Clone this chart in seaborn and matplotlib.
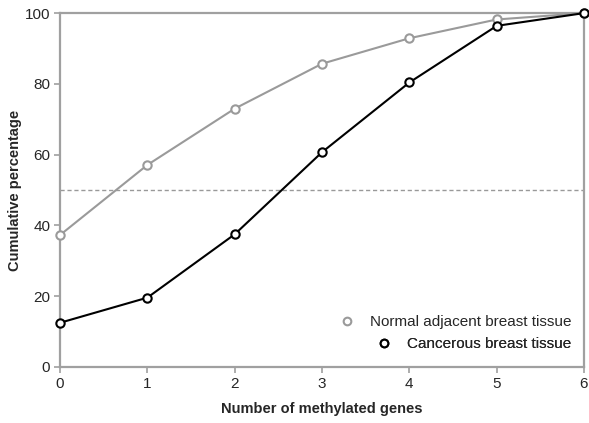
import matplotlib
matplotlib.use("Agg")
import matplotlib.pyplot as plt
import seaborn as sns
import pandas as pd
from matplotlib.lines import Line2D

genes = [0, 1, 2, 3, 4, 5, 6]
normal = [37.3, 57.1, 73.0, 85.7, 92.9, 98.2, 100.0]
cancer = [12.5, 19.6, 37.5, 60.7, 80.4, 96.4, 100.0]
labels = ["Normal adjacent breast tissue", "Cancerous breast tissue"]
colors = ["#9a9a9a", "#000000"]

sns.set_theme(style="white")
plt.rcParams['font.family'] = ['Liberation Sans', 'DejaVu Sans']

df = pd.DataFrame({
    "x": genes * 2,
    "y": normal + cancer,
    "group": [labels[0]] * len(genes) + [labels[1]] * len(genes),
})

fig = plt.figure(figsize=(5.89, 4.23), dpi=100)
ax = fig.add_axes([0.102, 0.1324, 0.8895, 0.8366])

ax.axhline(50, color="#999999", lw=1.0, ls=(0, (3, 2)), zorder=1)

for lab, col in zip(labels, colors):
    sub = df[df.group == lab]
    sns.lineplot(data=sub, x="x", y="y", ax=ax, color=col, lw=1.5,
                 marker="o", markersize=6, markerfacecolor="white",
                 markeredgecolor=col, markeredgewidth=1.5, legend=False,
                 clip_on=False, zorder=3)

ax.set_xlim(0, 6)
ax.set_ylim(0, 100)
ax.set_xticks(genes)
ax.set_yticks([0, 20, 40, 60, 80, 100])
for s in ax.spines.values():
    s.set_color("#a0a0a0")
    s.set_linewidth(1.6)
ax.tick_params(axis="both", direction="out", length=4, width=1.2, color="#a0a0a0",
               labelsize=11, pad=3, bottom=True, left=True)
ax.set_xlabel("Number of methylated genes", fontsize=10.5, fontweight="bold")
ax.set_ylabel("Cumulative percentage", fontsize=10.5, fontweight="bold")
ax.xaxis.set_label_coords(0.5, -0.119)
ax.yaxis.set_label_coords(-0.086, 0.5)
ax.xaxis.label.set_va("center")
ax.yaxis.label.set_va("center")

ys = [0.085, 0.023]
for lab, col, yy in zip(labels, colors, ys):
    h = Line2D([], [], ls="none", marker="o", markersize=5.5, markerfacecolor="white",
               markeredgecolor=col, markeredgewidth=1.5)
    leg = ax.legend([h], [lab], loc="lower right", bbox_to_anchor=(0.99, yy),
                    frameon=False, fontsize=11, handletextpad=1.0, handlelength=1.0,
                    borderpad=0.2, borderaxespad=0.3)
    ax.add_artist(leg)

fig.savefig("out.png", dpi=100)
